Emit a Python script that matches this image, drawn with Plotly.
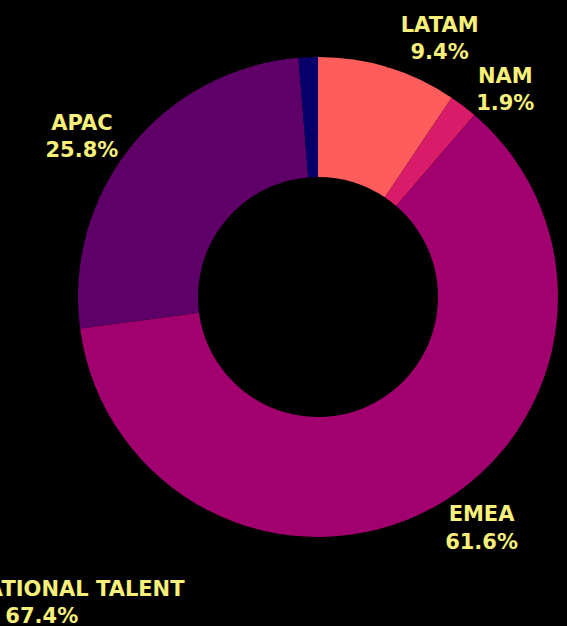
import plotly.graph_objects as go

regions = ["LATAM", "NAM", "EMEA", "APAC", "OTHER"]
shares = [9.4, 1.9, 61.6, 25.8, 1.3]
slice_colors = ["#FF5C5C", "#DA1B69", "#A1006E", "#5F0068", "#08006A"]
slice_text = ["LATAM<br>9.4%", "NAM<br>1.9%", "EMEA<br>61.6%", "APAC<br>25.8%", ""]

extra_label = "INTERNATIONAL TALENT<br>67.4%"

LABEL_COLOR = "#F8F07A"
FONT_SIZE = 21

fig = go.Figure(go.Pie(
    labels=regions,
    values=shares,
    text=slice_text,
    texttemplate="%{text}",
    textinfo="text",
    textposition="outside",
    hole=0.5,
    sort=False,
    direction="clockwise",
    rotation=0,
    marker=dict(colors=slice_colors, line=dict(width=0)),
    outsidetextfont=dict(family="DejaVu Sans", size=FONT_SIZE,
                         color=[LABEL_COLOR] * len(regions), weight="bold"),
    showlegend=False,
    hoverinfo="label+percent",
))

fig.add_annotation(
    text=extra_label, xref="paper", yref="paper",
    x=-0.075, y=-0.136, xanchor="center", yanchor="middle",
    showarrow=False, align="center",
    font=dict(family="DejaVu Sans", size=FONT_SIZE, color=LABEL_COLOR, weight="bold"),
)

fig.update_layout(
    width=567, height=626,
    margin=dict(l=78, r=9, t=57, b=89),
    paper_bgcolor="black", plot_bgcolor="black",
)

fig.write_html(
    "out.html",
    config={"displayModeBar": False},
    post_script="document.body.style.margin='0px';document.body.style.background='black';",
)
